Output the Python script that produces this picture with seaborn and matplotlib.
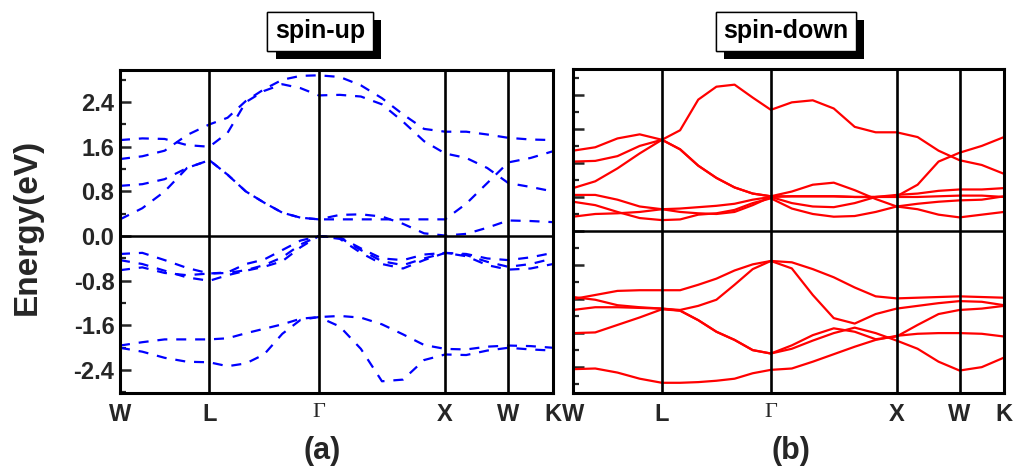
import numpy as np
import pandas as pd
import matplotlib
matplotlib.use("Agg")
import matplotlib.pyplot as plt
import seaborn as sns
from matplotlib.ticker import MultipleLocator, FormatStrFormatter
import matplotlib.patheffects as pe

# ---------------- data ----------------
sym_labels = ["W", "L", "Γ", "X", "W", "K"]
seg_lengths = [0.7071, 0.8660, 1.0, 0.5, 0.3536]   # |W-L|,|L-G|,|G-X|,|X-W|,|W-K| (2pi/a)
seg_samples = [4, 6, 6, 3, 2]                       # sampled intervals per segment

# spin-up bands (eV), sampled along W-L-G-X-W-K
up_c1 = [1.38, 1.43, 1.53, 1.81, 2.00, 2.12, 2.42, 2.63, 2.80, 2.87, 2.88, 2.85, 2.70, 2.47, 2.18, 1.92, 1.87, 1.87, 1.82, 1.76, 1.73, 1.72]
up_c2 = [1.72, 1.75, 1.74, 1.63, 1.60, 1.85, 2.40, 2.60, 2.72, 2.65, 2.52, 2.53, 2.50, 2.36, 2.05, 1.70, 1.48, 1.40, 1.22, 0.95, 0.88, 0.80]
up_c3 = [0.90, 0.93, 1.02, 1.22, 1.36, 1.10, 0.80, 0.60, 0.42, 0.33, 0.30, 0.30, 0.30, 0.30, 0.30, 0.30, 0.30, 0.58, 0.95, 1.32, 1.40, 1.52]
up_c4 = [0.30, 0.50, 0.80, 1.22, 1.36, 1.10, 0.80, 0.60, 0.42, 0.33, 0.30, 0.38, 0.39, 0.35, 0.22, 0.05, 0.01, 0.04, 0.15, 0.28, 0.27, 0.25]
up_v1 = [-0.32, -0.30, -0.43, -0.57, -0.67, -0.65, -0.50, -0.42, -0.25, -0.08, 0.00, -0.02, -0.22, -0.40, -0.43, -0.33, -0.30, -0.32, -0.40, -0.43, -0.38, -0.30]
up_v2 = [-0.43, -0.50, -0.62, -0.74, -0.80, -0.70, -0.62, -0.55, -0.45, -0.20, 0.00, -0.05, -0.30, -0.50, -0.58, -0.43, -0.30, -0.36, -0.52, -0.60, -0.58, -0.50]
up_v3 = [-0.61, -0.56, -0.66, -0.70, -0.67, -0.66, -0.61, -0.52, -0.38, -0.15, 0.00, -0.03, -0.25, -0.45, -0.52, -0.40, -0.30, -0.34, -0.46, -0.55, -0.50, -0.40]
up_v4 = [-1.96, -1.90, -1.85, -1.85, -1.85, -1.83, -1.74, -1.66, -1.58, -1.48, -1.45, -1.43, -1.46, -1.58, -1.76, -1.95, -2.02, -2.03, -1.98, -1.96, -1.97, -2.00]
up_v5 = [-2.00, -2.07, -2.18, -2.25, -2.26, -2.33, -2.28, -2.12, -1.75, -1.50, -1.45, -1.62, -2.02, -2.60, -2.57, -2.22, -2.12, -2.13, -2.05, -2.00, -2.03, -2.05]

# spin-down bands (eV)
dn_c1 = [1.18, 1.23, 1.36, 1.42, 1.34, 1.48, 1.93, 2.12, 2.15, 1.96, 1.78, 1.89, 1.92, 1.80, 1.53, 1.45, 1.45, 1.38, 1.18, 1.04, 0.97, 0.84]
dn_c2 = [1.02, 1.03, 1.10, 1.25, 1.34, 1.20, 0.96, 0.78, 0.64, 0.55, 0.51, 0.58, 0.68, 0.71, 0.60, 0.47, 0.36, 0.32, 0.24, 0.20, 0.24, 0.28]
dn_c3 = [0.63, 0.73, 0.92, 1.14, 1.34, 1.20, 0.96, 0.78, 0.64, 0.55, 0.51, 0.51, 0.51, 0.51, 0.50, 0.50, 0.51, 0.68, 1.02, 1.15, 1.25, 1.38]
dn_c4 = [0.53, 0.53, 0.46, 0.36, 0.32, 0.33, 0.35, 0.37, 0.40, 0.46, 0.50, 0.41, 0.36, 0.35, 0.41, 0.50, 0.53, 0.55, 0.59, 0.61, 0.61, 0.63]
dn_c5 = [0.43, 0.38, 0.28, 0.19, 0.16, 0.17, 0.24, 0.26, 0.31, 0.41, 0.48, 0.33, 0.25, 0.21, 0.22, 0.28, 0.36, 0.40, 0.43, 0.45, 0.46, 0.51]
dn_c6 = [0.21, 0.25, 0.26, 0.28, 0.32, 0.28, 0.26, 0.25, 0.28, 0.38, 0.50, 0.51, 0.51, 0.51, 0.50, 0.50, 0.50, 0.50, 0.51, 0.52, 0.52, 0.50]
dn_v1 = [-1.00, -0.94, -0.88, -0.87, -0.87, -0.87, -0.79, -0.70, -0.58, -0.49, -0.44, -0.46, -0.56, -0.68, -0.83, -0.96, -0.99, -0.98, -0.97, -0.96, -0.97, -0.98]
dn_v2 = [-0.97, -1.01, -1.09, -1.12, -1.14, -1.16, -1.10, -1.01, -0.79, -0.56, -0.44, -0.55, -0.94, -1.28, -1.36, -1.22, -1.14, -1.10, -1.06, -1.03, -1.04, -1.09]
dn_v3 = [-1.16, -1.12, -1.12, -1.13, -1.14, -1.17, -1.31, -1.48, -1.60, -1.75, -1.80, -1.73, -1.61, -1.50, -1.42, -1.50, -1.61, -1.73, -1.92, -2.05, -2.00, -1.86]
dn_v4 = [-1.50, -1.49, -1.38, -1.27, -1.15, -1.17, -1.31, -1.48, -1.60, -1.75, -1.80, -1.68, -1.53, -1.43, -1.48, -1.59, -1.55, -1.38, -1.22, -1.16, -1.14, -1.10]
dn_v5 = [-2.03, -2.02, -2.08, -2.17, -2.23, -2.23, -2.22, -2.20, -2.17, -2.09, -2.04, -2.02, -1.92, -1.81, -1.70, -1.60, -1.54, -1.51, -1.50, -1.50, -1.51, -1.55]

up_bands = [up_c1, up_c2, up_c3, up_c4, up_v1, up_v2, up_v3, up_v4, up_v5]
dn_bands = [dn_c1, dn_c2, dn_c3, dn_c4, dn_c5, dn_c6, dn_v1, dn_v2, dn_v3, dn_v4, dn_v5]

# ---------------- k path ----------------
kpts = np.concatenate([[0.0], np.cumsum(seg_lengths)])
kgrid = [kpts[0]]
for i, n in enumerate(seg_samples):
    kgrid.extend(np.linspace(kpts[i], kpts[i + 1], n + 1)[1:])
kgrid = np.array(kgrid)


def to_frame(bands):
    rows = []
    for b, vals in enumerate(bands):
        for k, e in zip(kgrid, vals):
            rows.append((b, k, e))
    return pd.DataFrame(rows, columns=["band", "k", "E"])


df_up = to_frame(up_bands)
df_dn = to_frame(dn_bands)

# ---------------- style ----------------
sns.set_theme(style="white")
plt.rcParams["font.family"] = ["Liberation Sans", "DejaVu Sans"]
plt.rcParams["font.weight"] = "bold"

fig = plt.figure(figsize=(10.14, 4.70), dpi=100)
W, H = 1014.0, 470.0
ax1 = fig.add_axes([120 / W, 1 - 393 / H, 433 / W, 323 / H])
ax2 = fig.add_axes([573 / W, 1 - 393 / H, 431 / W, 324 / H])

sns.lineplot(data=df_up, x="k", y="E", units="band", estimator=None, sort=False,
             color="#0000FF", lw=1.6, linestyle=(0, (4.5, 4.0)), ax=ax1, legend=False)
sns.lineplot(data=df_dn, x="k", y="E", units="band", estimator=None, sort=False,
             color="#FF0000", lw=1.6, ax=ax2, legend=False)

for ax in (ax1, ax2):
    ax.set_xlim(kpts[0], kpts[-1])
    ax.set_xlabel("")
    ax.set_ylabel("")
    ax.axhline(0, color="black", lw=1.8, zorder=3)
    for kp in kpts[1:-1]:
        ax.axvline(kp, color="black", lw=1.9, zorder=3)
    for sp in ax.spines.values():
        sp.set_visible(True)
        sp.set_color("black")
        sp.set_linewidth(2.2)
    ax.set_xticks(kpts)
    ax.set_xticklabels(sym_labels)
    ax.tick_params(axis="x", length=0, pad=7, labelsize=17)
    ax.tick_params(axis="y", which="major", direction="in", length=8, width=1.8, left=True, right=False)
    ax.tick_params(axis="y", which="minor", direction="in", length=4, width=1.6, left=True, right=False)
    for lab in ax.get_xticklabels():
        if lab.get_text() == "Γ":
            lab.set_fontfamily(["Liberation Serif", "DejaVu Serif"])
            lab.set_fontweight("normal")
            lab.set_fontsize(16)
        else:
            lab.set_fontweight("bold")

ax1.set_ylim(-2.81, 2.975)
ax1.yaxis.set_major_locator(MultipleLocator(0.8))
ax1.yaxis.set_minor_locator(MultipleLocator(0.4))
ax1.yaxis.set_major_formatter(FormatStrFormatter("%.1f"))
ax1.tick_params(axis="y", labelsize=17, pad=4)
for lab in ax1.get_yticklabels():
    lab.set_fontweight("bold")

ax2.set_ylim(-2.38, 2.38)
ax2.yaxis.set_major_locator(MultipleLocator(0.5))
ax2.yaxis.set_minor_locator(MultipleLocator(0.25))
ax2.tick_params(axis="y", labelleft=False)

# y label
fig.text(27 / W, 1 - 227 / H, "Energy(eV)", rotation=90, ha="center", va="center",
         fontsize=24, fontweight="bold")

# panel tags
fig.text(322 / W, 1 - 451 / H, "(a)", ha="center", va="center", fontsize=22, fontweight="bold")
fig.text(791 / W, 1 - 451 / H, "(b)", ha="center", va="center", fontsize=22, fontweight="bold")

# boxed titles with shadow
for xc, txt in ((320, "spin-up"), (786, "spin-down")):
    t = fig.text(xc / W, 1 - 31 / H, txt, ha="center", va="center", fontsize=18,
                 fontweight="bold", color="black",
                 bbox=dict(boxstyle="square,pad=0.3", fc="white", ec="black", lw=1.0))
    t.get_bbox_patch().set_path_effects(
        [pe.withSimplePatchShadow(offset=(6, -6), shadow_rgbFace="black", alpha=1.0), pe.Normal()])

fig.savefig("out.png", dpi=100)
